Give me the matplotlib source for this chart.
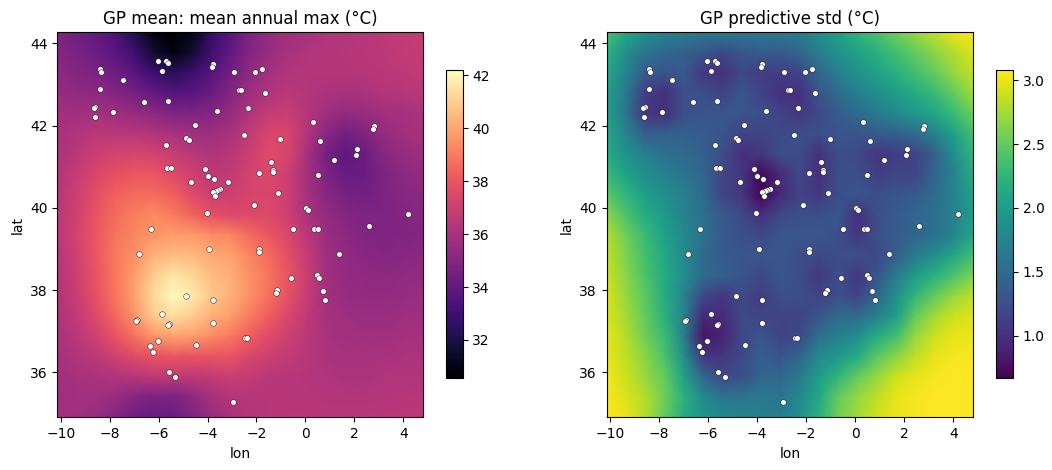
import numpy as np
import matplotlib
matplotlib.use("Agg")
import matplotlib.pyplot as plt

lon_min, lon_max = -10.14, 4.82
lat_min, lat_max = 34.905, 44.27

# station locations
st_lon = [-6.04, -5.71, -5.63, -5.88, -8.41, -8.37, -7.47, -8.41, -3.79, -3.83, -2.90, -2.73,
          -6.61, -5.63, -8.58, -8.65, -8.61, -7.88, -3.63, -4.53, -4.86, -4.77, -5.71, -5.67,
          -5.51, -4.12, -4.00, -3.75, -4.69, -3.18, -3.47, -3.59, -3.67, -3.79, -3.71, -4.04,
          -2.04, -1.78, -2.64, -1.63, -2.33, 0.33, 2.82, 2.78, -2.49, -1.02, 0.61, 2.12,
          2.08, 1.18, -1.41, -1.31, -1.31, -1.88, 0.50, -1.10, -2.12, 0.04, 0.10, 4.21,
          -6.32, -6.81, -3.92, -4.86, -3.79, -5.88, -6.90, -6.94, -5.59, -5.63, -3.79, -6.04,
          -6.37, -4.49, -6.24, -5.59, -5.32, -2.94, 2.61, -0.49, 0.37, 0.50, -1.88, -1.88,
          1.39, 0.49, 0.57, -0.57, 0.70, 0.82, -1.17, -1.22, -2.46, -2.37]
st_lat = [43.56, 43.56, 43.53, 43.34, 43.38, 43.30, 43.10, 42.88, 43.49, 43.42, 43.30, 42.86,
          42.57, 42.59, 42.45, 42.42, 42.22, 42.32, 42.35, 42.01, 41.69, 41.64, 41.52, 40.96,
          40.96, 40.94, 40.77, 40.69, 40.64, 40.63, 40.47, 40.44, 40.41, 40.38, 40.30, 39.87,
          43.30, 43.37, 42.86, 42.79, 42.44, 42.08, 41.98, 41.91, 41.76, 41.67, 41.62, 41.42,
          41.28, 41.16, 41.11, 40.91, 40.86, 40.84, 40.81, 40.35, 40.06, 39.99, 39.94, 39.84,
          39.48, 38.87, 38.99, 37.85, 37.77, 37.41, 37.26, 37.24, 37.17, 37.14, 37.19, 36.75,
          36.63, 36.66, 36.49, 36.00, 35.88, 35.27, 39.55, 39.48, 39.48, 39.48, 38.99, 38.93,
          38.87, 38.36, 38.29, 38.29, 37.97, 37.77, 37.99, 37.94, 36.83, 36.83]

# GP posterior mean, north to south
gp_mean = [
    [34.8, 34.4, 34.0, 33.4, 32.2, 30.9, 30.5, 31.1, 32.7, 33.7, 34.8, 35.4, 35.8, 36.0, 36.2, 36.3, 36.4, 36.6, 36.7, 36.8],
    [35.0, 34.7, 34.3, 33.8, 33.0, 31.6, 30.9, 31.6, 33.0, 34.0, 35.0, 35.6, 36.0, 36.2, 36.3, 36.4, 36.5, 36.6, 36.7, 36.8],
    [35.2, 35.0, 34.7, 34.3, 33.7, 32.9, 32.4, 32.9, 33.6, 34.4, 35.3, 35.9, 36.2, 36.3, 36.3, 36.3, 36.4, 36.5, 36.6, 36.7],
    [35.5, 35.3, 35.2, 35.0, 34.6, 34.0, 33.6, 33.7, 34.2, 35.0, 35.7, 36.2, 36.5, 36.3, 36.1, 36.0, 36.1, 36.3, 36.4, 36.5],
    [35.8, 35.8, 35.9, 35.7, 35.5, 35.2, 34.9, 34.8, 35.0, 35.5, 36.2, 36.8, 36.9, 36.3, 35.7, 35.4, 35.6, 35.8, 35.9, 36.1],
    [36.0, 36.2, 36.5, 36.5, 36.4, 36.2, 36.0, 35.8, 35.7, 36.0, 36.7, 37.4, 37.3, 36.2, 35.1, 34.5, 34.9, 35.5, 35.8, 36.0],
    [36.1, 36.5, 37.0, 37.2, 37.3, 37.2, 36.9, 36.5, 36.2, 36.4, 37.0, 37.6, 37.3, 35.9, 34.5, 33.9, 34.3, 35.1, 35.5, 35.7],
    [36.3, 36.8, 37.4, 37.8, 38.0, 38.0, 37.6, 37.1, 36.6, 36.7, 37.2, 37.5, 37.0, 35.8, 34.7, 34.1, 34.3, 34.8, 35.2, 35.4],
    [36.4, 37.0, 37.7, 38.3, 38.6, 38.6, 38.3, 37.6, 37.0, 37.0, 37.3, 37.4, 37.0, 35.9, 35.1, 34.6, 34.5, 34.8, 35.1, 35.2],
    [36.5, 37.1, 37.9, 38.6, 39.1, 39.3, 39.0, 38.4, 37.8, 37.5, 37.5, 37.5, 37.0, 36.0, 35.4, 35.0, 34.8, 34.8, 35.0, 35.1],
    [36.5, 37.2, 38.0, 38.8, 39.2, 39.6, 39.8, 39.7, 39.4, 39.2, 38.6, 38.0, 37.4, 36.5, 35.6, 35.2, 34.9, 34.8, 34.9, 35.0],
    [36.4, 37.1, 38.0, 38.9, 39.5, 40.3, 40.6, 40.5, 40.1, 39.9, 39.2, 38.6, 37.7, 36.7, 35.7, 35.3, 35.1, 35.0, 35.1, 35.2],
    [36.3, 37.0, 37.9, 38.9, 39.8, 41.0, 41.6, 41.2, 40.6, 40.2, 39.5, 38.8, 37.9, 36.9, 35.8, 35.4, 35.3, 35.2, 35.3, 35.4],
    [36.2, 36.9, 37.8, 38.8, 39.9, 41.3, 42.1, 41.7, 40.8, 40.3, 39.5, 38.7, 37.8, 36.8, 35.8, 35.5, 35.4, 35.4, 35.5, 35.6],
    [36.1, 36.7, 37.5, 38.5, 39.6, 40.9, 41.4, 41.0, 40.3, 39.8, 39.0, 38.2, 37.4, 36.6, 35.9, 35.7, 35.6, 35.6, 35.7, 35.8],
    [36.0, 36.5, 37.1, 37.9, 38.7, 39.6, 39.9, 39.8, 39.4, 38.9, 38.2, 37.6, 37.0, 36.5, 36.0, 35.8, 35.8, 35.8, 35.9, 36.0],
    [35.9, 36.2, 36.6, 37.1, 37.6, 37.9, 38.0, 37.9, 37.9, 37.9, 37.4, 37.0, 36.7, 36.4, 36.1, 36.0, 36.0, 36.0, 36.1, 36.1],
    [35.8, 36.0, 36.1, 36.2, 36.4, 36.6, 36.6, 36.6, 36.7, 36.9, 36.7, 36.5, 36.4, 36.3, 36.2, 36.1, 36.1, 36.2, 36.2, 36.3],
    [35.7, 35.8, 35.8, 35.6, 35.0, 34.7, 34.7, 35.2, 35.9, 36.3, 36.4, 36.4, 36.4, 36.4, 36.3, 36.3, 36.3, 36.3, 36.4, 36.4],
    [35.8, 35.7, 35.6, 35.0, 34.4, 34.1, 34.2, 34.8, 35.6, 36.1, 36.3, 36.4, 36.5, 36.5, 36.4, 36.4, 36.4, 36.5, 36.5, 36.6],
]

# GP posterior std, north to south
gp_std = [
    [2.40, 2.10, 1.90, 1.75, 1.70, 1.65, 1.65, 1.65, 1.65, 1.65, 1.70, 1.85, 2.05, 2.25, 2.40, 2.55, 2.70, 2.85, 3.00, 3.05],
    [2.20, 1.85, 1.60, 1.45, 1.40, 1.30, 1.20, 1.30, 1.35, 1.35, 1.45, 1.70, 1.90, 2.05, 2.20, 2.35, 2.50, 2.65, 2.80, 2.95],
    [2.10, 1.75, 1.35, 1.30, 1.35, 1.05, 1.00, 1.20, 1.10, 1.10, 1.15, 1.45, 1.70, 1.90, 2.05, 2.20, 2.35, 2.50, 2.70, 2.85],
    [2.05, 1.65, 1.10, 1.00, 1.25, 1.25, 1.15, 1.30, 1.15, 1.00, 1.00, 1.30, 1.50, 1.70, 1.85, 2.00, 2.15, 2.30, 2.50, 2.75],
    [2.05, 1.60, 1.05, 1.00, 1.25, 1.30, 1.30, 1.30, 1.25, 1.15, 1.05, 1.20, 1.35, 1.50, 1.65, 1.80, 1.95, 2.10, 2.30, 2.55],
    [2.10, 1.75, 1.40, 1.40, 1.40, 1.35, 1.30, 1.15, 1.15, 1.20, 1.25, 1.25, 1.30, 1.30, 1.35, 1.40, 1.50, 1.75, 2.05, 2.35],
    [2.15, 1.90, 1.70, 1.55, 1.50, 1.40, 1.25, 1.00, 1.05, 1.25, 1.25, 1.00, 1.25, 1.20, 1.05, 1.10, 1.15, 1.40, 1.85, 2.25],
    [2.30, 2.05, 1.85, 1.70, 1.60, 1.45, 1.15, 1.05, 0.72, 0.95, 1.20, 1.00, 1.25, 1.25, 1.10, 1.15, 1.15, 1.45, 1.75, 2.15],
    [2.45, 2.25, 2.00, 1.85, 1.70, 1.50, 1.15, 1.05, 0.70, 0.95, 1.15, 1.05, 1.25, 1.30, 1.25, 1.30, 1.35, 1.50, 1.75, 2.05],
    [2.65, 2.40, 2.15, 1.95, 1.75, 1.55, 1.35, 1.20, 1.00, 1.20, 1.25, 1.25, 1.30, 1.00, 1.25, 1.35, 1.45, 1.55, 1.75, 2.00],
    [2.80, 2.55, 2.30, 2.05, 1.80, 1.55, 1.35, 1.25, 1.20, 1.30, 1.30, 1.30, 1.25, 1.05, 1.25, 1.35, 1.45, 1.55, 1.75, 2.10],
    [2.85, 2.60, 2.35, 2.10, 1.80, 1.50, 1.35, 1.30, 1.30, 1.30, 1.25, 1.20, 1.25, 1.25, 1.20, 1.40, 1.65, 1.85, 2.10, 2.35],
    [2.90, 2.65, 2.40, 2.15, 1.85, 1.50, 1.40, 1.30, 1.20, 1.30, 1.25, 1.05, 1.25, 1.05, 1.30, 1.65, 2.00, 2.20, 2.40, 2.60],
    [2.95, 2.70, 2.45, 2.15, 1.75, 1.20, 1.05, 1.20, 1.10, 1.25, 1.25, 1.15, 1.25, 1.15, 1.45, 1.85, 2.25, 2.50, 2.70, 2.85],
    [2.95, 2.75, 2.50, 2.20, 1.75, 0.95, 0.95, 1.20, 1.15, 1.15, 1.15, 1.30, 1.50, 1.50, 1.70, 2.00, 2.50, 2.75, 2.90, 2.95],
    [3.00, 2.80, 2.55, 2.30, 1.70, 0.80, 0.90, 1.20, 1.30, 1.15, 1.20, 1.55, 1.70, 1.85, 2.15, 2.35, 2.70, 2.90, 3.00, 3.00],
    [3.00, 2.85, 2.65, 2.40, 1.85, 1.05, 1.05, 1.20, 1.40, 1.30, 1.45, 1.80, 1.95, 2.15, 2.45, 2.65, 2.85, 3.00, 3.05, 3.05],
    [3.05, 2.90, 2.70, 2.50, 2.05, 1.45, 1.20, 1.25, 1.45, 1.45, 1.65, 2.00, 2.25, 2.50, 2.70, 2.90, 3.00, 3.05, 3.08, 3.08],
    [3.05, 2.95, 2.80, 2.55, 2.20, 1.80, 1.60, 1.60, 1.65, 1.60, 1.80, 2.10, 2.50, 2.70, 2.85, 3.00, 3.05, 3.08, 3.08, 3.08],
    [3.08, 3.00, 2.80, 2.50, 2.15, 1.90, 1.80, 1.75, 1.70, 1.70, 1.85, 2.20, 2.55, 2.75, 2.90, 3.00, 3.05, 3.08, 3.08, 3.08],
]

lon_grid = np.linspace(lon_min, lon_max, len(gp_mean[0]))
lat_grid = np.linspace(lat_max, lat_min, len(gp_mean))

W, H = 1052, 470
fig = plt.figure(figsize=(W / 100, H / 100), dpi=100)


def box(x0, x1, y0, y1):
    return [x0 / W, 1 - y1 / H, (x1 - x0) / W, (y1 - y0) / H]


def panel(ax_box, cax_box, field, cmap, vmin, vmax, title):
    ax = fig.add_axes(ax_box)
    mesh = ax.pcolormesh(lon_grid, lat_grid, np.array(field), cmap=cmap, vmin=vmin, vmax=vmax,
                         shading="gouraud")
    ax.scatter(st_lon, st_lat, s=16, c="white", edgecolors="k", linewidths=0.3)
    ax.set_xlim(lon_min, lon_max)
    ax.set_ylim(lat_min, lat_max)
    ax.set_xticks(np.arange(-10, 5, 2))
    ax.set_yticks(np.arange(36, 45, 2))
    ax.set_xlabel("lon")
    ax.set_ylabel("lat")
    ax.set_title(title)
    fig.colorbar(mesh, cax=fig.add_axes(cax_box))


panel(box(57.3, 423.3, 32.3, 417.3), box(446, 462.7, 70, 378.3), gp_mean, "magma", 30.55, 42.2,
      "GP mean: mean annual max (°C)")
panel(box(606.7, 973.3, 32.3, 417.3), box(996.3, 1013, 70, 378.3), gp_std, "viridis", 0.667, 3.08,
      "GP predictive std (°C)")

fig.savefig("out.png", dpi=100)
